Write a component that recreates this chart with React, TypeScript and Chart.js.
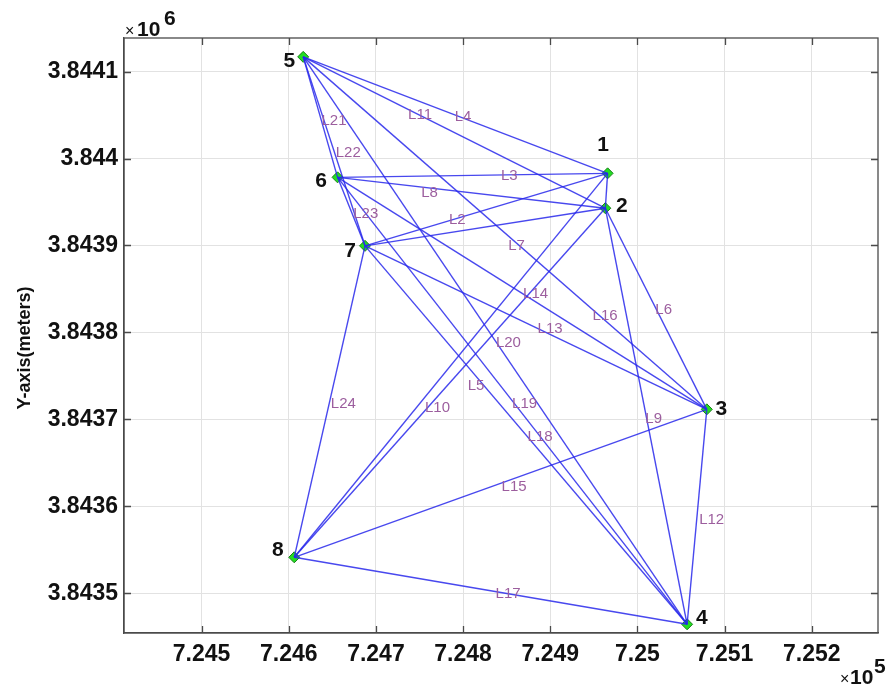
import React, { useEffect, useRef } from "react";
import { Chart, registerables } from "chart.js";

Chart.register(...registerables);

// ---- data (meters, UTM-like) ----
const NODE_IDS = [1, 2, 3, 4, 5, 6, 7, 8];
const NODE_X = [724965.8, 724963.2, 725079.6, 725057.0, 724616.6, 724656.0, 724687.5, 724606.3];
const NODE_Y = [3843983.0, 3843942.9, 3843711.5, 3843464.2, 3844117.0, 3843978.4, 3843899.6, 3843541.3];

// links between nodes (node ids)
const EDGE_FROM = [1, 7, 6, 5, 1, 2, 5, 6, 2, 2, 5, 3, 7, 6, 8, 7, 8, 7, 6, 5, 5, 5, 6, 7];
const EDGE_TO = [2, 1, 1, 1, 8, 3, 3, 2, 4, 8, 2, 4, 3, 3, 3, 2, 4, 4, 4, 4, 6, 7, 7, 8];

// link label annotations (data coordinates)
const LABEL_TEXT = ["L2", "L3", "L4", "L5", "L6", "L7", "L8", "L9", "L10", "L11", "L12", "L13", "L14", "L15", "L16", "L17", "L18", "L19", "L20", "L21", "L22", "L23", "L24"];
const LABEL_X = [724793.4, 724853.1, 724800.0, 724814.9, 725030.1, 724861.4, 724761.5, 725018.6, 724770.7, 724750.6, 725085.2, 724899.8, 724883.2, 724858.5, 724962.9, 724851.6, 724888.3, 724870.6, 724852.0, 724651.9, 724668.3, 724688.3, 724662.6];
const LABEL_Y = [3843929.3, 3843979.9, 3844047.8, 3843738.3, 3843825.8, 3843899.4, 3843960.0, 3843701.0, 3843712.7, 3844050.1, 3843584.8, 3843803.6, 3843844.2, 3843622.4, 3843819.4, 3843499.1, 3843679.9, 3843717.6, 3843788.4, 3844043.2, 3844006.0, 3843935.9, 3843717.6];

const X_TICKS = [724500, 724600, 724700, 724800, 724900, 725000, 725100, 725200];
const Y_TICKS = [3843500, 3843600, 3843700, 3843800, 3843900, 3844000, 3844100];
const X_MIN = 724411;
const X_MAX = 725276;
const Y_MIN = 3843454.2;
const Y_MAX = 3844138.7;
const X_EXP = 5;
const Y_EXP = 6;
const Y_TITLE = "Y-axis(meters)";

// ---- style ----
const TICK_FONT = '"Liberation Sans", Arial, sans-serif';
const LINE_COLOR = "rgba(40,40,235,0.85)";
const LABEL_COLOR = "#9c5e9e";
const NODE_LABEL_OFFSET: Record<number, [number, number]> = {
  1: [-4.5, -28.5],
  2: [16.5, -1.5],
  3: [14.5, 0],
  4: [14.7, -6],
  5: [-14, 4.2],
  6: [-16.5, 3.7],
  7: [-15, 4.9],
  8: [-16.5, -6.6],
};

const fmtX = (v: number) => Number((v / Math.pow(10, X_EXP)).toFixed(3)).toString();
const fmtY = (v: number) => Number((v / Math.pow(10, Y_EXP)).toFixed(4)).toString();

const overlayPlugin = {
  id: "overlay",
  afterDatasetsDraw(chart: any) {
    const { ctx, scales } = chart;
    const xs = scales.x;
    const ys = scales.y;
    ctx.save();
    // link labels
    ctx.font = `15px ${TICK_FONT}`;
    ctx.fillStyle = LABEL_COLOR;
    ctx.textAlign = "center";
    ctx.textBaseline = "middle";
    LABEL_TEXT.forEach((t, i) => {
      ctx.fillText(t, xs.getPixelForValue(LABEL_X[i]), ys.getPixelForValue(LABEL_Y[i]));
    });
    // node labels
    ctx.font = `bold 21px ${TICK_FONT}`;
    ctx.fillStyle = "#111";
    NODE_IDS.forEach((id, i) => {
      const [dx, dy] = NODE_LABEL_OFFSET[id];
      ctx.fillText(String(id), xs.getPixelForValue(NODE_X[i]) + dx, ys.getPixelForValue(NODE_Y[i]) + dy);
    });
    ctx.restore();
  },
  afterDraw(chart: any) {
    const { ctx, chartArea, scales } = chart;
    const { left, right, top, bottom } = chartArea;
    ctx.save();
    // box
    ctx.strokeStyle = "#4a4a4a";
    ctx.lineWidth = 1.3;
    ctx.strokeRect(left, top, right - left, bottom - top);
    // inner ticks
    const tl = 7;
    ctx.beginPath();
    scales.x.ticks.forEach((t: any) => {
      const px = Math.round(scales.x.getPixelForValue(t.value)) + 0.5;
      ctx.moveTo(px, bottom);
      ctx.lineTo(px, bottom - tl);
      ctx.moveTo(px, top);
      ctx.lineTo(px, top + tl);
    });
    scales.y.ticks.forEach((t: any) => {
      const py = Math.round(scales.y.getPixelForValue(t.value)) + 0.5;
      ctx.moveTo(left, py);
      ctx.lineTo(left + tl, py);
      ctx.moveTo(right, py);
      ctx.lineTo(right - tl, py);
    });
    ctx.stroke();

    // exponent labels
    ctx.fillStyle = "#111";
    ctx.textBaseline = "alphabetic";
    ctx.textAlign = "left";
    ctx.font = `16px ${TICK_FONT}`;
    ctx.fillText("×", 125, 36);
    ctx.font = `bold 21px ${TICK_FONT}`;
    ctx.fillText("10", 137, 36);
    ctx.font = `bold 21px ${TICK_FONT}`;
    ctx.fillText(String(Y_EXP), 164, 25);

    ctx.font = `16px ${TICK_FONT}`;
    ctx.fillText("×", 840, 684);
    ctx.font = `bold 21px ${TICK_FONT}`;
    ctx.fillText("10", 850, 684);
    ctx.font = `bold 21px ${TICK_FONT}`;
    ctx.fillText(String(X_EXP), 874, 673);

    // y title
    ctx.translate(25, 348);
    ctx.rotate(-Math.PI / 2);
    ctx.textAlign = "center";
    ctx.textBaseline = "middle";
    ctx.font = `bold 18px ${TICK_FONT}`;
    ctx.fillText(Y_TITLE, 0, 0);
    ctx.restore();
  },
};

export default function App() {
  const ref = useRef<HTMLCanvasElement | null>(null);

  useEffect(() => {
    if (!ref.current) return;
    const nodePts = NODE_IDS.map((_, i) => ({ x: NODE_X[i], y: NODE_Y[i] }));
    const edgeSets = EDGE_FROM.map((f, i) => {
      const a = NODE_IDS.indexOf(f);
      const b = NODE_IDS.indexOf(EDGE_TO[i]);
      return {
        data: [
          { x: NODE_X[a], y: NODE_Y[a] },
          { x: NODE_X[b], y: NODE_Y[b] },
        ],
        showLine: true,
        borderColor: LINE_COLOR,
        borderWidth: 1.4,
        pointRadius: 0,
        fill: false,
      };
    });
    const chart = new Chart(ref.current, {
      type: "scatter",
      data: {
        datasets: [
          ...edgeSets,
          {
            data: nodePts,
            showLine: false,
            pointStyle: "rectRot",
            pointRadius: 5.5,
            backgroundColor: "#22dd22",
            borderColor: "#1b7d1b",
            borderWidth: 1,
          },
        ] as any,
      },
      options: {
        animation: false,
        responsive: false,
        devicePixelRatio: 1,
        layout: { padding: { top: 38, right: 12, left: 0, bottom: 0 } },
        plugins: { legend: { display: false }, tooltip: { enabled: false } },
        scales: {
          x: {
            type: "linear",
            min: X_MIN,
            max: X_MAX,
            afterBuildTicks: (s: any) => {
              s.ticks = X_TICKS.map((v) => ({ value: v }));
            },
            afterFit: (s: any) => {
              s.height = 56;
            },
            grid: { color: "#e2e2e2", drawTicks: false, lineWidth: 1 },
            border: { display: true, color: "#4a4a4a", width: 1.3 },
            ticks: {
              callback: (v: any) => fmtX(Number(v)),
              font: { family: TICK_FONT, size: 23, weight: "bold" },
              color: "#111",
              padding: 8,
              maxRotation: 0,
              autoSkip: false,
            },
          },
          y: {
            type: "linear",
            min: Y_MIN,
            max: Y_MAX,
            afterBuildTicks: (s: any) => {
              s.ticks = Y_TICKS.map((v) => ({ value: v }));
            },
            afterFit: (s: any) => {
              s.width = 124;
            },
            grid: { color: "#e2e2e2", drawTicks: false, lineWidth: 1 },
            border: { display: true, color: "#4a4a4a", width: 1.3 },
            ticks: {
              callback: (v: any) => fmtY(Number(v)),
              font: { family: TICK_FONT, size: 23, weight: "bold" },
              color: "#111",
              padding: 6,
              autoSkip: false,
            },
          },
        },
      } as any,
      plugins: [overlayPlugin],
    });
    return () => chart.destroy();
  }, []);

  return (
    <div style={{ position: "absolute", left: 0, top: 0, width: 890, height: 689, background: "#fff" }}>
      <canvas ref={ref} width={890} height={689} style={{ width: 890, height: 689, display: "block" }} />
    </div>
  );
}
